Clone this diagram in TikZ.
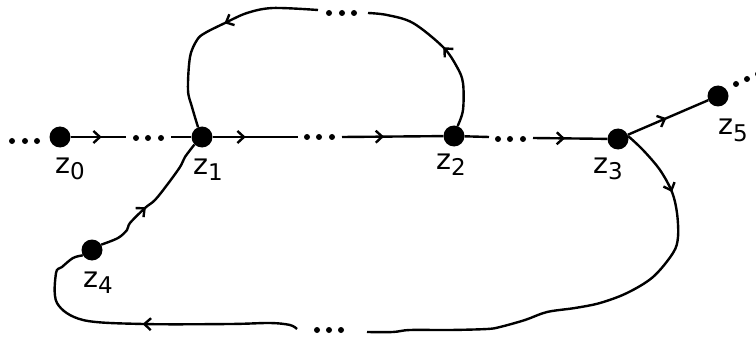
\documentclass[tikz,border=0pt]{standalone}
\usepackage{fontspec}
\setmainfont{DejaVu Sans}
\usetikzlibrary{arrows.meta,decorations.markings}
\newcommand{\zlab}[1]{z\raisebox{-6.5pt}{\fontsize{23}{23}\selectfont #1}}
\begin{document}
\begin{tikzpicture}[x=1pt,y=-1pt,
  vtx/.style={circle,fill=black,inner sep=0pt,minimum size=21pt},
  lab/.style={anchor=base west,inner sep=0pt,font=\fontsize{28.5}{30}\selectfont},
  ln/.style={line width=2.4pt},
  midarr/.style={postaction={decorate},decoration={markings,mark=at position #1 with {\arrow{Straight Barb[length=6.5pt,width=12pt]}}}},
  dotg/.style={circle,fill=black,inner sep=0pt,minimum size=6pt}]
\useasboundingbox (0,0) rectangle (756,337);
% vertices
\node[vtx] (z0) at (60,137) {};
\node[vtx] (z1) at (202,137) {};
\node[vtx] (z2) at (454,136) {};
\node[vtx] (z3) at (618,139) {};
\node[vtx] (z5) at (718,96) {};
\node[vtx] (z4) at (92,250) {};
% labels
\node[lab] (l0) at (55,173) {\zlab{0}};
\node[lab] (l1) at (193,174) {\zlab{1}};
\node[lab] (l2) at (436,169) {\zlab{2}};
\node[lab] (l3) at (593,173) {\zlab{3}};
\node[lab] (l5) at (718,135) {\zlab{5}};
\node[lab] (l4) at (83,287) {\zlab{4}};
% free ends
\coordinate (c1) at (126,137);
\coordinate (c2) at (171,137);
\coordinate (c3) at (298,137);
\coordinate (c4) at (342,137);
\coordinate (c5) at (489,137);
\coordinate (c6) at (533,138);
\coordinate (t1) at (368,13);
\coordinate (t2) at (318,10);
\coordinate (b1) at (367,332);
\coordinate (b2) at (297,329);
% dots
\foreach \x/\y [count=\i] in {12/141,25/141,37/141,136/138,148/138,161/138,307/137,319/137,332/137,498/139,510/139,523/139,329/13,342/13,354/13,317/330,329/330,341/330,736/84,747/79,758/74}
  \node[dotg] (d\i) at (\x,\y) {};
% straight connectors
\draw[ln,midarr=31pt] (z0) -- (c1);
\draw[ln] (c2) -- (z1);
\draw[ln,midarr=33pt] (z1) -- (c3);
\draw[ln,midarr=42pt] (c4) -- (z2);
\draw[ln] (z2) -- (c5);
\draw[ln,midarr=32pt] (c6) -- (z3);
\draw[ln,midarr=42pt] (z3) -- (z5);
% top loop
\draw[ln,midarr=0.5] plot[smooth,tension=0.55] coordinates {(z2.70) (463,110) (463,83) (457,67) (443,47) (413,23) (387,15) (t1)};
\draw[ln,midarr=0.44] plot[smooth,tension=0.55] coordinates {(t2) (273,8) (247,13) (225,23) (205,33) (197,40) (190,57) (188,90) (192,107) (z1.112)};
% bottom loop
\draw[ln,midarr=0.155] plot[smooth,tension=0.55] coordinates {(z3.15) (643,150) (660,170) (672,192) (677,213) (678,237) (673,253) (653,277) (627,293) (600,303) (575,308) (547,312) (525,320) (500,327) (487,329) (450,330) (410,330) (393,332) (b1)};
\draw[ln,midarr=0.5] plot[smooth,tension=0.55] coordinates {(b2) (290,325) (270,323) (230,324) (143,324) (83,320) (57,303) (56,273) (62,267) (73,258) (z4.210)};
\draw[ln,midarr=0.43] plot[smooth,tension=0.55] coordinates {(z4.30) (118,238) (127,230) (130,223) (145,208) (155,200) (167,185) (180,167) (185,157) (z1.225)};
\end{tikzpicture}
\end{document}
